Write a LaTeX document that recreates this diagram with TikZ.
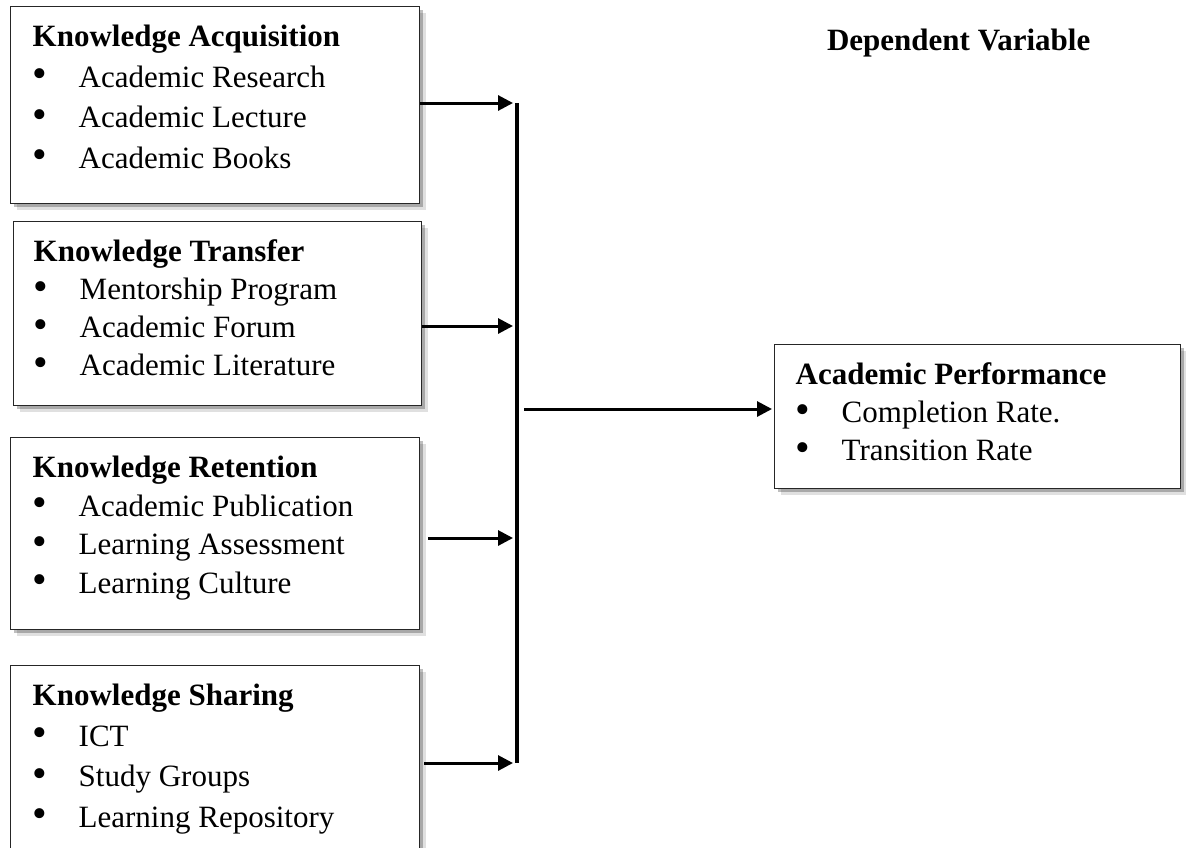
\documentclass[tikz,border=0pt]{standalone}
\usepackage{fontspec}
\setmainfont{Liberation Serif}
\usetikzlibrary{arrows.meta,shadows}
\newcommand{\itm}[1]{\makebox[23pt][l]{\raisebox{-0.2pt}{\scalebox{1.35}{\textbullet}}}#1}
\newcommand{\fbody}[3]{\parbox[t][#1][t]{#2}{\rule{0pt}{20pt}#3}}
\tikzset{
  factor/.style={draw=black!85, line width=0.7pt, fill=white, anchor=north west,
    inner xsep=11pt, inner ysep=0pt,
    drop shadow={shadow xshift=3pt, shadow yshift=-3pt, opacity=0.12, fill=black},
    drop shadow={shadow xshift=1.5pt, shadow yshift=-1.5pt, opacity=0.25, fill=black}},
  arr/.style={line width=1.5pt, -{Triangle[length=7.5pt,width=7.5pt]}, shorten >=1pt}
}
\begin{document}
\begin{tikzpicture}[x=0.5pt,y=-0.5pt]
\useasboundingbox (0,0) rectangle (1186,847);
\node[factor, font=\fontsize{15.5}{20.3}\selectfont] (a) at (10,6) {\fbody{98.5pt}{182.5pt}{\textbf{Knowledge Acquisition}\\
  \itm{Academic Research}\\ \itm{Academic Lecture}\\ \itm{Academic Books}}};
\node[factor, inner xsep=10pt, font=\fontsize{15.5}{19}\selectfont] (b) at (13,221) {\fbody{92pt}{184pt}{\textbf{Knowledge Transfer}\\
  \itm{Mentorship Program}\\ \itm{Academic Forum}\\ \itm{Academic Literature}}};
\node[factor, font=\fontsize{15.5}{19.3}\selectfont] (c) at (10,437) {\fbody{96pt}{182.5pt}{\textbf{Knowledge Retention}\\
  \itm{Academic Publication}\\ \itm{Learning Assessment}\\ \itm{Learning Culture}}};
\node[factor, font=\fontsize{15.5}{20.3}\selectfont] (d) at (10,665) {\fbody{100pt}{182.5pt}{\textbf{Knowledge Sharing}\\
  \itm{ICT}\\ \itm{Study Groups}\\ \itm{Learning Repository}}};
\node[factor, inner xsep=10.5pt, font=\fontsize{15.5}{19}\selectfont] (e) at (774,344) {\fbody{72pt}{182pt}{\textbf{Academic Performance}\\
  \itm{Completion Rate.}\\ \itm{Transition Rate}}};
\node[anchor=base west, font=\fontsize{15.5}{18}\selectfont\bfseries] (dv) at (820,50) {Dependent Variable};
\coordinate (ja) at (517,103);
\coordinate (jb) at (517,326);
\coordinate (jc) at (517,538);
\coordinate (jd) at (517,763);
\coordinate (jm) at (517,409);
\draw[line width=2pt] (ja) -- (jd);
\draw[arr, shorten >=2pt] (a.east |- ja) -- (ja);
\draw[arr, shorten >=2pt] (b.east |- jb) -- (jb);
\draw[arr, shorten >=2pt, shorten <=4pt] (c.east |- jc) -- (jc);
\draw[arr, shorten >=2pt, shorten <=2pt] (d.east |- jd) -- (jd);
\draw[arr, shorten <=3.5pt] (jm) -- (e.west |- jm);
\end{tikzpicture}
\end{document}
